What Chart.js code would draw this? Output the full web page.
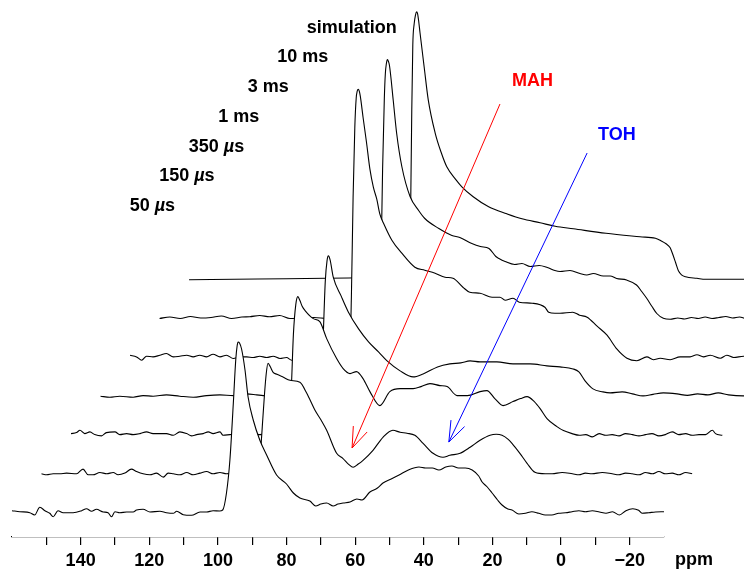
<!DOCTYPE html>
<html>
<head>
<meta charset="utf-8">
<script src="https://cdn.jsdelivr.net/npm/chart.js@4.4.0/dist/chart.umd.min.js"></script>
<style>
  html, body { margin: 0; padding: 0; background: #fff; }
  #wrap { width: 744px; height: 570px; }
</style>
</head>
<body>
<div id="wrap"><canvas id="stackChart"></canvas></div>
<script>
// each spectrum: chemical shift (ppm, own frame) and intensity above its own baseline
const ppm50us = [160, 157.7, 154.8, 153.4, 151.9, 150.4, 149, 148, 146.6, 145.1, 142.2, 139.7, 138.3, 136.8, 135.4, 133.4, 132, 131, 130, 128.6, 126.6, 124.7, 123.7, 121.8, 119.8, 116.9, 115, 113, 112, 110.1, 107.7, 105.2, 103.3, 101.4, 99.5, 98.6, 97.5, 96.5, 95.5, 94.8, 94.4, 94.1, 93.7, 93.1, 92.1, 91.2, 89.7, 87.8, 85.8, 82.9, 80, 78, 76.1, 73.2, 71.5, 70, 68.3, 66.4, 65, 63.5, 61.5, 59.5, 58, 55.7, 53.5, 51.9, 49.5, 47.2, 44.5, 41.4, 39.5, 37.5, 35.6, 33.6, 31.8, 29.9, 27.9, 25.9, 24, 23, 21.5, 20.1, 18.5, 17.2, 15.5, 14.3, 12.3, 10.4, 8.5, 6.5, 4.6, 2.7, 0.7, -1.3, -3.2, -5.2, -7.1, -9.1, -11.2, -13.1, -15, -17, -18.9, -20.9, -22.6, -23.6, -25.6, -27.5, -30];
const amp50us = [1.3, 0.3, -0.7, -3, 4.7, 1.3, -1.3, -4.7, 1.3, -0.7, -0.7, 1.3, 3.3, 0.7, 2.7, 0, -0.7, -4.7, 0.3, -0.7, 0, 0, 2, 2.7, 0, 0.7, -0.7, -1.3, 0.7, -2.7, -3.3, 0, 0, 1.3, 1, 2, 19, 52, 109, 152, 166, 170, 169, 163, 142, 115, 92, 72, 57, 37, 28, 19, 14, 11, 6, 8, 9, 6, 8, 9, 10, 13, 12, 20, 24, 29, 33, 37, 42, 45, 44, 44, 42, 45, 46, 44, 44, 42, 36, 30, 25, 19, 12, 7, 3, 2, -2, -1.3, 0.3, -1.3, -3, -3, -1.3, -0.7, 0.3, 1.3, 0.3, 1.3, 0, -1.3, 0.3, -3, 1.3, 3.3, 1.7, -1.3, -0.7, 0, 0.3];

const ppm150us = [160, 158.5, 156.6, 154.7, 152.7, 149.8, 147.9, 146.4, 145, 143, 141, 139.1, 137.7, 135.7, 133.8, 132.3, 130.4, 128.4, 126.5, 124.5, 123.1, 121.6, 119.7, 117.7, 115.8, 113.8, 111.9, 110, 108, 106.1, 103, 100, 97.5, 96.5, 96, 95.5, 95, 94.5, 94, 93.4, 92.5, 91.4, 89.5, 87.6, 84.7, 82.7, 80.3, 78.5, 76.9, 74, 72.2, 70.5, 69.2, 67.8, 66.3, 63.4, 60.5, 57.6, 55.5, 53.5, 51.2, 48.8, 45.9, 43, 41, 38, 35.1, 32.2, 29.3, 27.5, 25.8, 24, 22.9, 20.6, 18.5, 16.2, 13.2, 11.2, 8.3, 5.3, 3.4, 1.5, -0.4, -3.4, -6.3, -8.2, -10.2, -12.1, -14.1, -16, -18, -19.9, -21.8, -23.8, -25.7, -27.7, -29.6];
const amp150us = [-0.5, -1.5, -0.5, -0.5, 0.2, -0.5, 4.2, -1.5, -1.5, 0.8, -0.5, 0.8, -1.5, 0.2, 4.2, 1.8, -0.5, -1.5, 0.2, -3.8, 0.2, -0.5, -1.5, 0.8, -1.5, 0.2, 1.8, -0.5, 0.8, -0.5, 0.5, -0.5, 0.5, 12, 30, 55, 80, 100, 110, 107, 101, 99, 96, 93, 91, 80, 63, 53, 43, 20, 15, 9, 6, 9, 13, 23, 36, 43, 41, 40, 38, 30, 20, 16, 18, 20, 26, 33, 38, 39, 38, 34, 30, 20, 10, 1, -0.5, -0.5, 0.8, -0.5, -1.5, 0.2, -0.5, 0.8, -0.5, -1.5, 0.2, -0.5, -1.5, 0.8, -0.5, 1.8, -0.5, 0.2, -1.5, 0.8, -0.5];

const ppm350us = [160, 158.4, 157.4, 156, 154.5, 153.1, 151.1, 149.7, 147.2, 145.8, 143.8, 141.9, 139.9, 138, 136.1, 134.1, 132.2, 130.2, 128.3, 126.3, 124.9, 123.4, 121.5, 120, 118.6, 116.6, 115.7, 113.7, 110, 105, 101, 98, 97, 96.5, 96, 95.7, 95.2, 94.5, 93.9, 93.3, 92.6, 91.8, 89.4, 87.5, 85.5, 82.6, 80.7, 78.7, 76.8, 74.9, 72.9, 70, 67.1, 64.1, 60.3, 58, 55.4, 52.5, 50.4, 47.5, 44.5, 40.8, 38.8, 36.5, 34.1, 31.2, 29, 27.1, 25, 23.3, 21.3, 18.4, 16.5, 14, 11.9, 10, 8.1, 6.1, 4.2, 2.3, 0.3, -1.6, -3.6, -5.5, -7.4, -9.3, -11.3, -13.2, -15.2, -17.1, -19.1, -21, -23, -24.9, -26.9, -27.8, -29.8];
const amp350us = [1, 2, 4.3, 1, 2.7, 0, -1.3, 2, 2.7, 0, 1, 0, 1, 2.7, 1, 1, 1, -0.7, 2.7, 1, -1.3, 0, 1, 2.7, 1, 2.7, -0.7, 0, 1, 0, 1, 0, 2, 8, 30, 55, 100, 130, 138, 134, 128, 124, 116, 113, 96, 76, 66, 61, 63, 56, 43, 29, 43, 46, 46, 48, 51, 49, 48, 39, 39, 43, 44, 36, 29, 33, 36, 38, 33, 26, 16, 8, 4, 1, -0.7, 0, -2.3, 1, -0.7, 0, -1.3, 1, 0, -1.3, 0, 1, -1.3, 0, 2.7, 0, 1, -0.7, 0, 0, 4.3, 1, -0.7];

const ppm1ms = [160, 157.3, 154.4, 150.5, 147.6, 144.7, 140.8, 136.9, 133, 129.1, 125.2, 121.3, 117.4, 114.5, 112.6, 110, 106, 102, 98, 97, 96, 95.5, 95, 94.5, 94, 93.6, 93.1, 92.2, 89.9, 87.8, 84.8, 81.9, 79, 76.5, 72.7, 68.9, 66, 61.8, 58.2, 55, 52.3, 49.4, 44.5, 39.8, 34.8, 29.9, 26.1, 22.3, 20.6, 18.8, 16.5, 13.6, 11.5, 8, 5, 1.9, -1, -4, -8, -11, -14, -17, -20, -23, -27.3, -30];
const amp1ms = [-0.3, -1.3, -0.3, -1.3, 0.3, -0.3, 1, -0.3, -1.3, 0.3, 1, 0.3, 2, 1, 0.3, 0, 0.5, 0, 0.5, 0, 2, 20, 70, 115, 135, 140, 136, 119, 100, 84, 67, 54, 44, 35, 25, 19, 22, 29, 32, 33, 35, 34, 34, 32, 32, 30, 29, 27, 24, 15, 7, 4, 3, 4, 2, 0, 1.5, 3, 2, 0.5, 2, 1, 3, 1, 0, 1];

const ppm3ms = [160, 158.1, 156.6, 155.2, 153.3, 151.3, 149.4, 147.4, 145.5, 143.5, 141.6, 139.7, 137.7, 135.8, 133.8, 131.9, 129.9, 128, 126, 124.1, 122.2, 120.2, 118.3, 116.3, 114.4, 112.9, 110, 105, 100, 97, 96, 95.5, 95, 94.5, 94.1, 93.8, 93.5, 93.2, 92.9, 92.1, 91.1, 90.1, 89.1, 88.1, 87.2, 86, 83.7, 80.8, 77, 74.1, 71.1, 68.2, 65.9, 63, 61, 58, 54.5, 52.2, 50.7, 48.4, 46.6, 42.8, 39.1, 38, 36.2, 34.7, 31, 29, 26.8, 23.9, 21, 18.1, 15.2, 12.3, 9.4, 7.5, 5.5, 2.6, -0.3, -3.2, -5.2, -7.1, -9.1, -12, -13.9, -15.9, -18.8, -22, -26, -30];
const amp3ms = [2, 0.3, -3, 1, 0.3, 2, 3.7, 0.3, 1, 2, 0.3, 2, 0.3, 3, 0.3, 2, -1.3, 0.3, 0.3, -0.3, 1, -0.3, 1, -1.3, -0.3, -3, 0, 1, 0, 1, 3, 60, 160, 230, 259, 266, 268, 266, 261, 240, 215, 188, 170, 158, 143, 133, 117, 104, 90, 87, 84, 80, 79, 70, 65, 64, 60, 60, 57, 59, 55, 54, 50, 45, 44, 44, 45, 42, 40, 31, 22, 8, -1, -3.5, 0.3, -2.5, -1, -2.5, 0.3, 0.3, 2.5, 0.3, 2, -1, 2, -0.3, 1, 0, 1, 0];

const ppm10ms = [160, 157, 154, 151, 148, 145, 142, 139, 136, 133.7, 130.8, 128, 125, 122, 119, 115, 111, 107, 103, 99, 97, 96, 95.5, 95, 94.5, 94.2, 93.9, 93.6, 93.3, 93, 91.9, 90.9, 89.4, 87, 84.5, 82.7, 78.6, 74.8, 72.5, 69, 66.5, 64, 62, 61.1, 59.3, 56.5, 54.4, 52, 49.4, 47, 44.8, 43.3, 40.4, 37.5, 35.5, 33.6, 30.7, 28.7, 26.8, 23.9, 21, 19.5, 18, 16.5, 15.1, 13.2, 11.2, 9, 7, 5, 3, 1, -1, -3, -5, -7, -9, -11, -15, -20, -25, -30];
const amp10ms = [0, 1.5, 0, 2, 0.5, 1, 2.5, 0, 1.5, 1.8, 3, 1.8, 3, 0, 0.5, 1, 0, 1, 0.5, 1, 0.5, 3, 50, 150, 220, 245, 255, 259, 257, 253, 218, 185, 152, 122, 108, 100, 90, 83, 81, 75, 72, 70, 62, 60, 57, 54, 55, 52, 53, 51, 48, 47, 48, 45, 43.5, 45, 42.5, 42.5, 40, 38.5, 33.5, 27, 20, 12, 5, 0.2, -0.8, 0.5, -0.5, 1, 0, 1.5, 0, 1, 2, 0.5, 1.5, 0, 1, 0, 0.5, 0];

const ppmSim = [160, 140, 120, 110, 100, 97, 96, 95.7, 95.4, 95.1, 94.8, 94.4, 94, 93.7, 93.4, 93.1, 92.7, 91.5, 90.3, 88.3, 86.5, 84.9, 82.2, 80.5, 77.2, 72.7, 67.4, 63, 57.7, 53.3, 48, 38.5, 28.6, 24.1, 22.5, 21, 19.8, 19, 18.2, 17.4, 16.5, 15.3, 12, 9.5, 0, -15, -30];
const ampSim = [0, 0.8, 1.5, 2, 2.5, 3, 3.5, 20, 80, 170, 235, 256, 265, 268, 266, 259, 247, 213, 180, 147, 127, 113, 100, 93, 83, 73, 66, 61, 57, 53.5, 51, 46.5, 43, 41.5, 39, 36, 32, 25, 17, 9, 5, 3, 1.5, 0.5, 0.5, 0, 0];

const traceNames = ['50 µs', '150 µs', '350 µs', '1 ms', '3 ms', '10 ms', 'simulation'];
const tracePpm = [ppm50us, ppm150us, ppm350us, ppm1ms, ppm3ms, ppm10ms, ppmSim];
const traceAmp = [amp50us, amp150us, amp350us, amp1ms, amp3ms, amp10ms, ampSim];

const xTicks = [140, 120, 100, 80, 60, 40, 20, 0, -20];

// arrows: [ppm, height] tail then head
const arrowMAH = [[17.8, 433], [60.9, 89]];
const arrowTOH = [[-7.6, 384], [32.7, 95]];

// stacking of the pseudo-3D plot
const traceShift = 8.6;   // ppm per trace
const traceStep = 38.7;   // height per trace
const baseHeight = 25;

const fontFamily = "'Liberation Sans', Arial, Helvetica, sans-serif";

traceAmp.forEach((a, k) => {
    if (a.length !== tracePpm[k].length) console.error('length mismatch', traceNames[k], a.length, tracePpm[k].length);
});

const datasets = traceNames.map((name, k) => ({
    label: name,
    data: tracePpm[k].map((p, i) => ({ x: p - k * traceShift, y: traceAmp[k][i] + baseHeight + k * traceStep })),
    borderColor: '#000',
    borderWidth: 1.1,
    backgroundColor: '#fff',
    fill: 'start',
    pointRadius: 0,
    cubicInterpolationMode: 'monotone',
    clip: false
}));

const drawText = (ctx, parts, x, y) => {
    let cx = x;
    parts.forEach(([txt, italic]) => {
        ctx.font = (italic ? 'italic ' : '') + 'bold 18px ' + fontFamily;
        ctx.fillText(txt, cx, y);
        cx += ctx.measureText(txt).width;
    });
};

const drawArrow = (ctx, xs, ys, arrow, color) => {
    const x0 = xs.getPixelForValue(arrow[0][0]);
    const y0 = ys.getPixelForValue(arrow[0][1]);
    const x1 = xs.getPixelForValue(arrow[1][0]);
    const y1 = ys.getPixelForValue(arrow[1][1]);
    ctx.strokeStyle = color;
    ctx.lineWidth = 1;
    ctx.beginPath();
    ctx.moveTo(x0, y0);
    ctx.lineTo(x1, y1);
    ctx.stroke();
    const ang = Math.atan2(y0 - y1, x0 - x1);
    const len = 22;
    const spread = 20 * Math.PI / 180;
    ctx.beginPath();
    ctx.moveTo(x1 + len * Math.cos(ang - spread), y1 + len * Math.sin(ang - spread));
    ctx.lineTo(x1, y1);
    ctx.lineTo(x1 + len * Math.cos(ang + spread), y1 + len * Math.sin(ang + spread));
    ctx.stroke();
};

const annotations = {
    id: 'annotations',
    afterDraw(chart) {
        const { ctx } = chart;
        const xs = chart.scales.x;
        const ys = chart.scales.y;
        ctx.save();
        ctx.textBaseline = 'middle';
        ctx.textAlign = 'left';
        ctx.fillStyle = '#000';

        // trace names, stepped like the traces
        traceNames.forEach((name, k) => {
            const px = xs.getPixelForValue(125.7 - k * traceShift);
            const py = ys.getPixelForValue(331 + k * 29.7);
            const parts = name.includes('µ')
                ? [[name.split('µ')[0], false], ['µ', true], [name.split('µ')[1], false]]
                : [[name, false]];
            drawText(ctx, parts, px, py);
        });

        drawText(ctx, [['ppm', false]], xs.getPixelForValue(-33.2), ys.getPixelForValue(-23.5));

        drawArrow(ctx, xs, ys, arrowMAH, '#ff0000');
        drawArrow(ctx, xs, ys, arrowTOH, '#0000ff');

        ctx.fillStyle = '#ff0000';
        drawText(ctx, [['MAH', false]], xs.getPixelForValue(14.3), ys.getPixelForValue(456));
        ctx.fillStyle = '#0000ff';
        drawText(ctx, [['TOH', false]], xs.getPixelForValue(-10.8), ys.getPixelForValue(402));
        ctx.restore();
    }
};

new Chart(document.getElementById('stackChart'), {
    type: 'line',
    data: { datasets },
    options: {
        responsive: true,
        maintainAspectRatio: false,
        animation: false,
        layout: { padding: { left: 12, right: 80, top: 0, bottom: -7 } },
        plugins: {
            legend: { display: false },
            tooltip: { enabled: false },
            filler: { propagate: false }
        },
        scales: {
            x: {
                type: 'linear',
                reverse: true,
                min: -30,
                max: 160,
                z: 1,
                border: { display: true, color: '#000', width: 1.2 },
                grid: {
                    drawOnChartArea: false,
                    drawTicks: true,
                    tickLength: 8,
                    lineWidth: 1.2,
                    color: ctx => (ctx.tick && (ctx.tick.value === 160 || ctx.tick.value === -30)) ? 'rgba(0,0,0,0)' : '#000'
                },
                ticks: {
                    stepSize: 10,
                    autoSkip: false,
                    maxRotation: 0,
                    color: '#000',
                    padding: 7,
                    font: { family: fontFamily, size: 18, weight: 'bold', lineHeight: 1.0 },
                    callback: v => xTicks.includes(v) ? (v < 0 ? '\u2212' + Math.abs(v) : String(v)) : ''
                }
            },
            y: {
                display: false,
                min: 0,
                max: 537
            }
        }
    },
    plugins: [annotations]
});
</script>
</body>
</html>
